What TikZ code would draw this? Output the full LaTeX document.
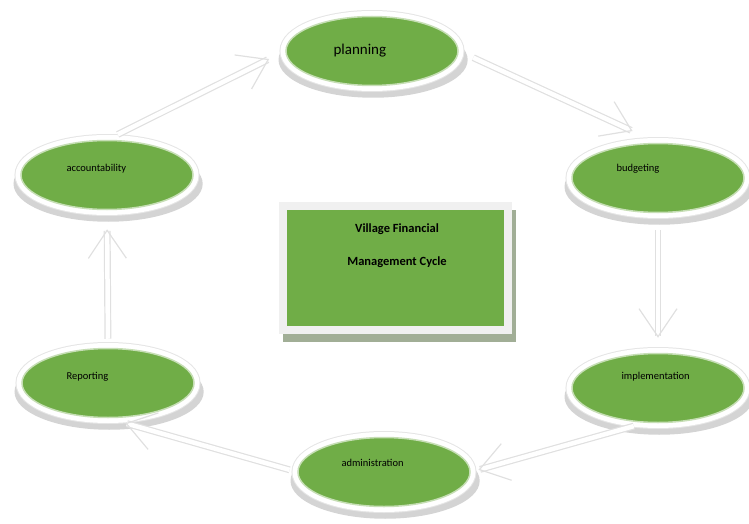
\documentclass[tikz,border=0pt]{standalone}
\usepackage{fontspec}
\setmainfont{Carlito}
\usetikzlibrary{arrows.meta,shapes.geometric,shadows}

\definecolor{leaf}{HTML}{70AD47}
\definecolor{moss}{HTML}{A1AE96}

\begin{document}
\begin{tikzpicture}[
		x=1pt, y=-1pt,
		every node/.style={
			font=\fontsize{10.5}{12}\selectfont,
			align=center
		},
		phase/.style={
			ellipse, minimum width=172pt, minimum height=69pt, inner sep=0pt,
			drop shadow={shadow xshift=1pt, shadow yshift=-8pt, shadow scale=1.1,
				fill=black!17, opacity=1},
			preaction={draw=black!10, line width=13pt},
			preaction={draw=white, line width=11pt},
			fill=leaf, draw=leaf!40, line width=1.5pt
		},
		caption/.style={anchor=base west},
		flow/.style={
			draw=black!12, line width=1.2pt, double=white, double distance=4.5pt,
			-{Straight Barb[length=28pt, width=38pt]}
		}
		]
		
		\useasboundingbox (0,0) rectangle (749,524);
		
		%--------------------------------------------------
		% Centre box
		%--------------------------------------------------
		
		\node (core) [rectangle, fill=leaf, draw=black!6, line width=8pt,
			minimum width=225pt, minimum height=124pt, inner sep=0pt,
			drop shadow={shadow xshift=4pt, shadow yshift=-8pt, fill=moss,
				draw=moss, line width=8pt, opacity=1}] at (395,268) {};
		\node (title) [font=\fontsize{12.5}{15}\selectfont\bfseries] at (397,245.5)
		{Village Financial\\[18pt]Management Cycle};
		
		%--------------------------------------------------
		% Stages
		%--------------------------------------------------
		
		\node (plan) [phase] at (372,51) {};
		\node (budget) [phase] at (658,178) {};
		\node (impl) [phase] at (658,388) {};
		\node (admin) [phase] at (384,472) {};
		\node (report) [phase] at (108,383) {};
		\node (account) [phase] at (107,175) {};
		
		\node (planT) [caption, font=\fontsize{15}{18}\selectfont] at (330,55) {planning};
		\node (budgetT) [caption] at (613,171.5) {budgeting};
		\node (implT) [caption] at (618,379.5) {implementation};
		\node (adminT) [caption] at (338,466.5) {administration};
		\node (reportT) [caption] at (63,379.5) {Reporting};
		\node (accountT) [caption] at (63,171.5) {accountability};
		
		%--------------------------------------------------
		% Cycle
		%--------------------------------------------------
		
		\draw[flow, shorten <=16pt, shorten >=28pt]
		(plan.east) -- (budget.north);
		
		\draw[flow, shorten <=17pt, shorten >=15pt]
		(budget.south) -- (impl.north);
		
		\draw[flow, shorten <=12pt, shorten >=8pt]
		(impl.250) -- (admin.east);
		
		\draw[flow, shorten <=8pt, shorten >=18pt]
		(admin.west) -- (report.south);
		
		\draw[flow, shorten <=9pt, shorten >=19pt]
		(report.north) -- (account.south);
		
		\draw[flow, shorten <=12pt, shorten >=18pt]
		(account.north) -- (plan.west);
		
	\end{tikzpicture}
\end{document}
